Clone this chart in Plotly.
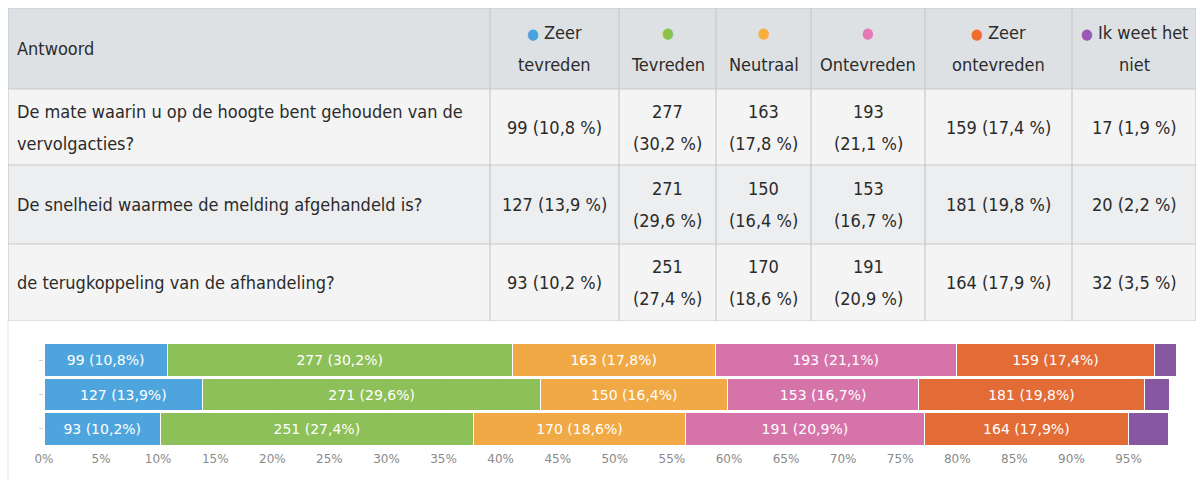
import plotly.graph_objects as go

# ---------------- data ----------------
questions = [
    "De mate waarin u op de hoogte bent gehouden van de<br>vervolgacties?",
    "De snelheid waarmee de melding afgehandeld is?",
    "de terugkoppeling van de afhandeling?",
]
first_header = "Antwoord"
categories = ["Zeer<br>tevreden", "Tevreden", "Neutraal", "Ontevreden",
              "Zeer<br>ontevreden", "Ik weet het<br>niet"]

n_zeer_tevreden = [99, 127, 93]
p_zeer_tevreden = [10.8, 13.9, 10.2]
n_tevreden = [277, 271, 251]
p_tevreden = [30.2, 29.6, 27.4]
n_neutraal = [163, 150, 170]
p_neutraal = [17.8, 16.4, 18.6]
n_ontevreden = [193, 153, 191]
p_ontevreden = [21.1, 16.7, 20.9]
n_zeer_ontevreden = [159, 181, 164]
p_zeer_ontevreden = [17.4, 19.8, 17.9]
n_weet_niet = [17, 20, 32]
p_weet_niet = [1.9, 2.2, 3.5]

x_tick_values = [0, 5, 10, 15, 20, 25, 30, 35, 40, 45, 50, 55, 60, 65, 70, 75, 80, 85, 90, 95]
x_tick_labels = [f"{v}%" for v in x_tick_values]

counts = [n_zeer_tevreden, n_tevreden, n_neutraal, n_ontevreden, n_zeer_ontevreden, n_weet_niet]
pcts = [p_zeer_tevreden, p_tevreden, p_neutraal, p_ontevreden, p_zeer_ontevreden, p_weet_niet]

# ---------------- styles ----------------
W, H = 1204, 480
dot_colors = ["#4aa3df", "#8bc34a", "#f9ae3b", "#e57ab5", "#f26b2e", "#9b59b6"]
bar_colors = ["#4ea5dd", "#8dc058", "#f0a944", "#d673a9", "#e36c36", "#8857a1"]
col_widths = [482, 129, 97, 95, 114, 147, 124]
row_heights = [81, 76, 79, 77]
col_two_line = [False, True, True, True, False, False]
line_gap = 32
header_fill = "#dee1e4"
row_fills = ["#f4f4f4", "#eceef0", "#f4f4f4"]
border = "#c6cacd"
tfont = "Liberation Sans Narrow, DejaVu Sans Condensed, Arial Narrow, sans-serif"
tsize = 18
table_left, table_top = 8, 8

def fmt(v):
    return f"{v:.1f}".replace(".", ",")

fig = go.Figure()

# ---------------- bar chart ----------------
ypos = list(range(len(questions)))
for i, cat in enumerate(categories):
    txt = [f"{c} ({fmt(p)}%)" for c, p in zip(counts[i], pcts[i])]
    if i == len(categories) - 1:
        txt = ["" for _ in txt]
    fig.add_trace(go.Bar(
        y=ypos, x=pcts[i], orientation="h", name=cat.replace("<br>", " "),
        marker=dict(color=bar_colors[i], line=dict(color="white", width=1)),
        text=txt, textposition="inside", insidetextanchor="middle",
        textfont=dict(family="DejaVu Sans", size=14, color="white"),
        hoverinfo="skip", showlegend=False, xaxis="x", yaxis="y",
    ))

x0 = 44
per_pct = 11.416
fig.update_layout(
    barmode="stack", bargap=0.05,
    xaxis=dict(domain=[x0 / W, (x0 + 100 * per_pct) / W], range=[0, 100],
               tickvals=x_tick_values, ticktext=x_tick_labels,
               tickfont=dict(family="DejaVu Sans", size=12, color="#8a8a8a"),
               showgrid=True, gridcolor="#ececec", zeroline=False,
               showline=False, ticks="", ticklabelstandoff=4, fixedrange=True,
               automargin=False),
    yaxis=dict(domain=[1 - 446 / H, 1 - 343 / H], range=[2.5, -0.5],
               showticklabels=False, ticks="outside", ticklen=4, tickcolor="#d0d0d0",
               tickvals=ypos, showgrid=False, zeroline=False, showline=False,
               fixedrange=True, automargin=False),
)

# ---------------- table (drawn on its own axes) ----------------
tw = sum(col_widths)
th = sum(row_heights)
fig.update_layout(
    xaxis2=dict(domain=[table_left / W, (table_left + tw) / W], range=[0, tw],
                visible=False, fixedrange=True, automargin=False, anchor="y2"),
    yaxis2=dict(domain=[1 - (table_top + th) / H, 1 - table_top / H], range=[th, 0],
                visible=False, fixedrange=True, anchor="x2", automargin=False),
)
fig.add_trace(go.Scatter(x=[0, tw], y=[0, th], mode="markers",
                         marker=dict(opacity=0), xaxis="x2", yaxis="y2",
                         showlegend=False, hoverinfo="skip"))

col_edges = [0]
for w in col_widths:
    col_edges.append(col_edges[-1] + w)
row_edges = [0]
for h in row_heights:
    row_edges.append(row_edges[-1] + h)

shapes = []
for r in range(len(row_heights)):
    fill = header_fill if r == 0 else row_fills[r - 1]
    shapes.append(dict(type="rect", xref="x2", yref="y2", x0=0, x1=tw,
                       y0=row_edges[r], y1=row_edges[r + 1],
                       fillcolor=fill, line=dict(width=0), layer="below"))
for r in range(len(row_edges)):
    shapes.append(dict(type="line", xref="x2", yref="y2", x0=0, x1=tw,
                       y0=row_edges[r], y1=row_edges[r],
                       line=dict(color=border, width=1.2)))
for c in range(len(col_edges)):
    shapes.append(dict(type="line", xref="x2", yref="y2", x0=col_edges[c], x1=col_edges[c],
                       y0=0, y1=th, line=dict(color=border, width=1.2)))
# frame of the chart panel below
shapes.append(dict(type="line", xref="paper", yref="paper",
                   x0=table_left / W, x1=table_left / W, y0=0, y1=1 - (table_top + th) / H,
                   line=dict(color="#e6e6e6", width=1)))
fig.update_layout(shapes=shapes)

ann = []
def add_lines(lines, xc, yc, align_left=False, color="#2b2b2b"):
    n = len(lines)
    for k, s in enumerate(lines):
        y = yc + (k - (n - 1) / 2) * line_gap
        ann.append(dict(xref="x2", yref="y2", x=xc, y=y, text=s, showarrow=False,
                        xanchor="left" if align_left else "center", yanchor="middle",
                        font=dict(family=tfont, size=tsize, color=color)))

# header
hy = row_heights[0] / 2
add_lines([first_header], 7, hy, align_left=True)
for i, cat in enumerate(categories):
    parts = cat.split("<br>")
    dot = f"<span style='color:{dot_colors[i]};font-size:15px'>●</span>"
    if len(parts) == 1:
        lines = [dot, parts[0]]
    else:
        lines = [dot + " " + parts[0], parts[1]]
    xc = (col_edges[i + 1] + col_edges[i + 2]) / 2
    add_lines(lines, xc, hy)

# body
for r, q in enumerate(questions):
    yc = (row_edges[r + 1] + row_edges[r + 2]) / 2
    add_lines(q.split("<br>"), 7, yc, align_left=True)
    for i in range(len(categories)):
        c = counts[i][r]
        p = fmt(pcts[i][r])
        if col_two_line[i]:
            lines = [f"{c}", f"({p} %)"]
        else:
            lines = [f"{c} ({p} %)"]
        xc = (col_edges[i + 1] + col_edges[i + 2]) / 2
        add_lines(lines, xc, yc)

fig.update_layout(annotations=ann)

fig.update_layout(
    width=W, height=H, margin=dict(l=0, r=0, t=0, b=0, pad=0, autoexpand=False),
    paper_bgcolor="white", plot_bgcolor="white", showlegend=False,
)

fig.write_html("out.html", config={"displayModeBar": False},
               post_script="document.body.style.margin='0';")
